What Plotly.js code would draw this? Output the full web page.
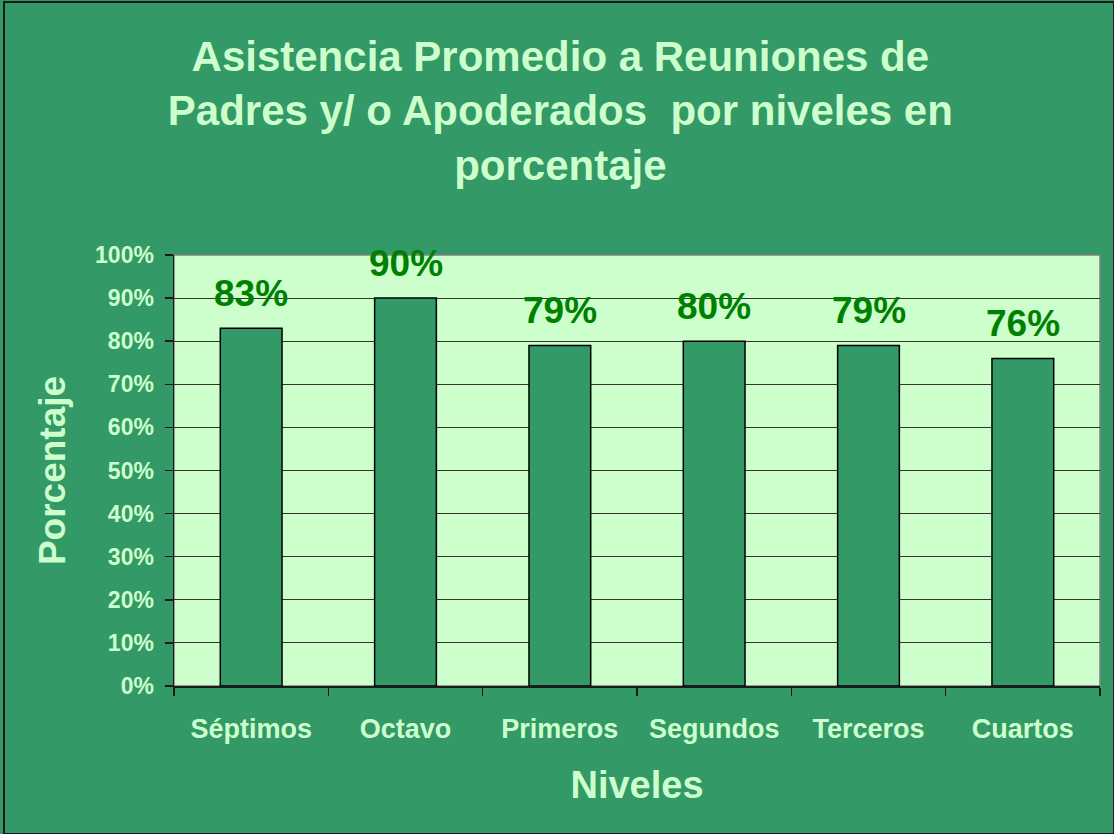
<!DOCTYPE html>
<html>
<head>
<meta charset="utf-8">
<script src="https://cdn.plot.ly/plotly-3.0.1.min.js"></script>
<style>
  html, body { margin: 0; padding: 0; background: #ffffff; }
  #wrap { position: relative; width: 1114px; height: 834px; overflow: hidden; }
  #chart { position: absolute; left: 0; top: 0; width: 1114px; height: 834px; }
  #frame { position: absolute; left: 3px; top: 1px; width: 1108px; height: 830px;
           border: 2px solid #1a1a1a; pointer-events: none; }
</style>
</head>
<body>
<div id="wrap">
  <div id="chart"></div>
  <div id="frame"></div>
</div>
<script>
const categories = ["Séptimos", "Octavo", "Primeros", "Segundos", "Terceros", "Cuartos"];
const values = [83, 90, 79, 80, 79, 76];
const yTickValues = [0, 10, 20, 30, 40, 50, 60, 70, 80, 90, 100];
const yTickLabels = yTickValues.map(v => v + "%");

const FONT = "Liberation Sans, Arial, Helvetica, sans-serif";
const LIGHT = "#CCFFCC";
const BG = "#339966";

const trace = {
  type: "bar",
  x: categories,
  y: values,
  marker: { color: BG, line: { color: "#000000", width: 1.5 } },
  hoverinfo: "none"
};

const annotations = categories.map((c, i) => ({
  x: c, y: values[i], xref: "x", yref: "y",
  text: values[i] + "%",
  showarrow: false,
  yanchor: "middle",
  yshift: 35,
  font: { family: FONT, size: 37, color: "#008000", weight: "bold" }
}));

const layout = {
  width: 1114,
  height: 834,
  paper_bgcolor: BG,
  plot_bgcolor: LIGHT,
  margin: { l: 174, r: 14, t: 255, b: 148 },
  showlegend: false,
  bargap: 0.6,
  title: {
    text: "Asistencia Promedio a Reuniones de<br>Padres y/ o Apoderados  por niveles en<br>porcentaje",
    x: 0.503, xanchor: "center",
    y: 0.915, yanchor: "top", yref: "container",
    font: { family: FONT, size: 42, color: LIGHT, weight: "bold" }
  },
  xaxis: {
    type: "category",
    tickson: "boundaries",
    ticks: "outside",
    ticklen: 8,
    tickcolor: "#1a1a1a",
    tickwidth: 1.5,
    showline: true,
    linecolor: "#1a1a1a",
    linewidth: 1.5,
    showgrid: false,
    ticklabelstandoff: 18,
    tickfont: { family: FONT, size: 27, color: LIGHT, weight: "bold" },
    title: {
      text: "Niveles",
      standoff: 28,
      font: { family: FONT, size: 38, color: LIGHT, weight: "bold" }
    },
    fixedrange: true
  },
  yaxis: {
    range: [0, 100],
    tickmode: "array",
    tickvals: yTickValues,
    ticktext: yTickLabels,
    ticks: "outside",
    ticklen: 8,
    tickcolor: "#1a1a1a",
    tickwidth: 1.5,
    showline: true,
    linecolor: "#1a1a1a",
    linewidth: 1.5,
    showgrid: true,
    gridcolor: "#333333",
    gridwidth: 1,
    zeroline: false,
    ticklabelstandoff: 6,
    tickfont: { family: FONT, size: 23, color: LIGHT, weight: "bold" },
    title: {
      text: "Porcentaje",
      standoff: 18,
      font: { family: FONT, size: 37, color: LIGHT, weight: "bold" }
    },
    fixedrange: true
  },
  shapes: [{
    type: "rect", xref: "paper", yref: "paper",
    x0: 0, x1: 1, y0: 0, y1: 1,
    line: { color: "#808080", width: 1.5 },
    layer: "below"
  }],
  annotations: annotations
};

Plotly.newPlot("chart", [trace], layout, { displayModeBar: false, staticPlot: true });
</script>
</body>
</html>
